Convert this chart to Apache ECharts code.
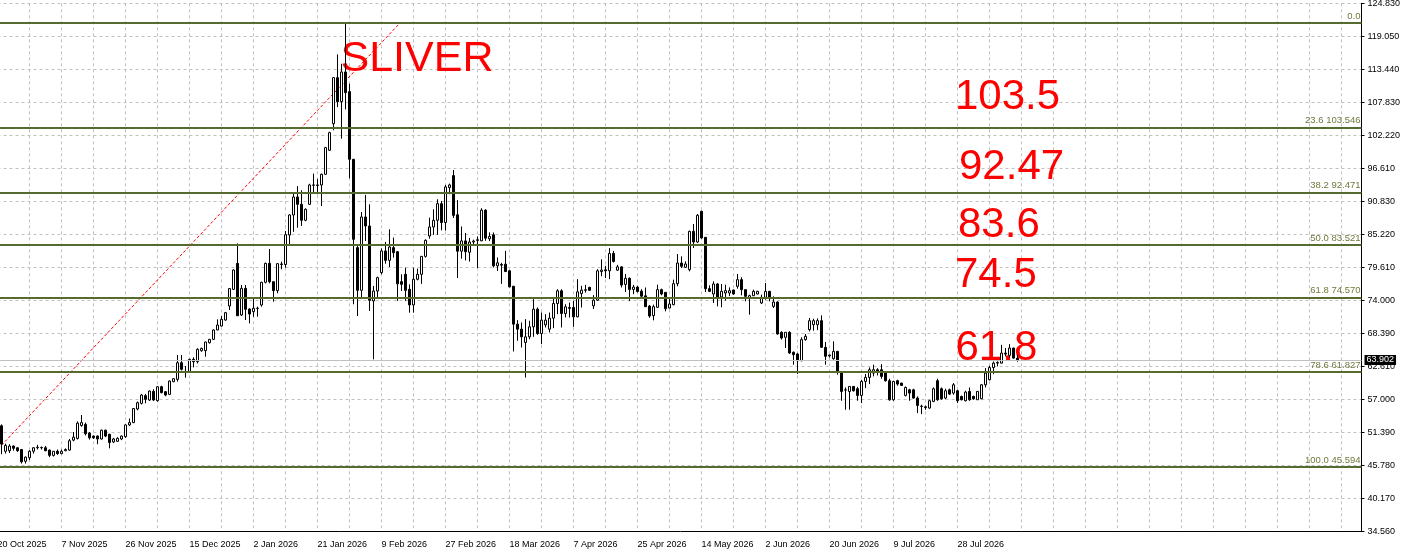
<!DOCTYPE html>
<html>
<head>
<meta charset="utf-8">
<script src="https://cdn.jsdelivr.net/npm/echarts@6/dist/echarts.min.js"></script>
<style>
html,body{margin:0;padding:0;background:#fff;}
#chart{width:1405px;height:554px;}
</style>
</head>
<body>
<div id="chart"></div>
<script>
// ---- data (daily bars) ----
const dateLabels = ['20 Oct 2025','7 Nov 2025','26 Nov 2025','15 Dec 2025','2 Jan 2026','21 Jan 2026','9 Feb 2026','27 Feb 2026','18 Mar 2026','7 Apr 2026','25 Apr 2026','14 May 2026','2 Jun 2026','20 Jun 2026','9 Jul 2026','28 Jul 2026'];
const priceLabels = ['34.560','40.170','45.780','51.390','57.000','62.610','68.390','74.000','79.610','85.220','90.830','96.610','102.220','107.830','113.440','119.050','124.830'];
const priceMin = 34.56, priceMax = 124.83;

const open = [53.0,52.66,48.3,48.4,49.2,48.9,48.6,46.6,47.2,48.3,48.9,48.9,48.9,48.5,47.6,48.3,47.9,48.4,48.5,50.2,
50.5,52.7,52.9,51.4,50.9,50.9,50.4,51.9,51.2,49.9,50.0,50.4,50.8,52.8,53.2,55.52,56.49,57.8,57.06,58.54,
56.94,59.33,58.48,58.02,60.19,60.59,63.43,61.85,61.95,64.0,63.6,65.49,65.49,66.85,67.42,69.02,69.7,70.72,73.12,75.96,
80.4,71.58,76.13,72.6,72.15,72.7,73.29,77.16,80.4,77.27,75.74,80.2,80.2,85.25,88.67,91.74,90.49,87.76,90.49,93.75,
93.7,93.79,95.62,99.72,104.27,112.13,108.03,113.1,109.74,98.18,83.09,75.8,88.33,86.79,73.98,75.68,78.82,82.52,80.92,83.09,
82.4,77.28,78.53,75.97,73.3,77.68,78.53,81.6,85.08,86.62,87.76,90.6,87.38,93.35,95.4,88.7,82.48,84.24,82.3,84.05,
84.3,84.25,89.49,84.6,85.28,79.98,80.2,80.27,79.13,76.5,70.02,69.16,66.89,67.85,69.56,72.58,68.42,69.9,69.16,71.04,
73.55,75.71,71.84,72.7,72.86,71.27,75.25,75.8,76.3,73.15,74.11,79.0,79.3,79.13,82.09,79.24,79.8,76.8,77.85,75.95,
76.35,75.65,74.85,73.1,71.47,72.89,75.91,75.45,72.78,73.35,76.93,80.46,79.72,79.33,85.87,84.05,89.29,84.85,76.08,75.17,
76.88,74.66,75.34,75.34,75.85,76.48,77.62,75.91,74.49,74.88,75.17,73.63,74.6,75.62,73.06,73.8,68.62,67.77,68.62,65.2,
64.92,63.78,67.37,69.08,69.93,69.93,70.61,66.06,64.6,64.12,65.37,61.84,58.75,58.52,59.38,58.98,57.84,60.23,60.92,61.66,
62.23,62.23,61.66,60.35,57.1,60.35,59.95,57.84,58.8,58.8,57.39,55.95,55.9,55.68,56.82,60.35,58.98,57.39,58.81,58.24,
58.64,57.67,56.93,58.52,57.67,57.1,57.27,59.66,60.52,62.6,63.36,63.36,65.07,64.68,65.93,64.22];
const high = [53.4,52.9,49.6,49.5,49.3,49.0,48.7,47.4,48.5,49.0,49.4,49.1,49.2,48.6,48.3,48.6,48.6,48.8,50.4,51.6,
53.4,54.5,53.2,51.6,51.0,51.0,52.0,52.0,51.3,50.6,50.7,51.0,52.9,53.9,55.7,56.8,58.1,58.1,58.7,58.9,
59.4,59.5,58.6,60.4,60.8,64.74,64.74,62.87,64.1,64.35,65.9,66.0,67.0,67.5,69.13,70.84,71.4,72.1,76.13,79.38,
83.82,76.7,76.7,72.7,74.43,73.0,77.27,80.52,82.85,77.3,80.4,80.69,85.93,88.78,92.3,93.6,92.88,89.8,94.0,95.73,
94.8,95.73,100.3,102.9,112.24,116.1,114.5,121.448,111.1,98.2,83.66,89.18,92.09,90.49,76.54,78.13,82.97,84.06,86.22,84.8,
82.52,78.53,79.67,76.82,79.67,79.5,81.66,84.51,88.21,89.64,91.35,91.06,93.8,94.03,96.35,91.2,86.7,85.6,84.75,84.45,
85.0,89.83,89.66,85.7,85.68,81.4,80.5,82.54,79.2,76.5,70.7,70.3,70.87,70.6,74.28,72.86,72.0,71.72,72.0,74.46,
75.99,75.99,73.43,73.7,74.0,77.7,76.56,76.73,76.4,74.97,79.41,81.1,79.98,83.0,82.54,80.15,79.9,78.6,78.0,76.73,
76.56,75.99,76.28,73.3,73.35,76.76,76.08,75.5,74.37,77.62,82.0,81.6,80.75,85.99,87.13,88.84,89.41,84.85,76.65,77.33,
77.05,76.88,76.76,76.3,75.9,78.59,78.02,75.95,75.05,75.9,75.7,75.05,77.05,75.7,74.77,73.92,68.8,68.62,68.8,65.37,
65.1,67.77,68.34,71.07,70.95,71.0,71.52,66.97,64.8,67.08,65.4,61.9,59.2,59.4,59.45,59.3,60.52,61.49,62.62,63.08,
62.5,63.19,61.8,60.69,60.35,60.52,60.0,59.38,58.98,58.98,57.67,56.25,56.1,57.1,59.2,60.69,59.2,58.98,59.0,59.95,
58.8,57.8,58.64,59.2,57.8,58.6,59.78,62.51,62.9,63.65,63.65,66.49,65.93,66.6,66.0,64.8];
const low = [52.2,47.8,47.9,48.0,48.4,48.2,46.2,46.2,46.8,47.9,48.6,48.6,48.3,47.3,47.4,47.7,47.8,48.3,48.4,50.0,
50.3,52.5,51.0,50.3,50.4,49.5,50.3,50.7,48.8,49.7,49.9,50.2,50.6,52.6,53.1,55.3,56.3,56.5,56.9,56.9,
56.77,58.2,57.7,57.9,60.1,60.2,62.1,60.87,61.8,62.63,63.3,65.3,64.46,66.7,67.3,69.0,69.6,70.6,72.43,75.85,
71.41,71.41,70.72,70.15,71.29,71.29,73.0,76.99,76.99,73.86,75.28,79.38,79.67,83.4,85.8,86.5,86.8,87.6,90.4,92.5,
92.2,90.2,95.5,99.6,103.13,107.1,101.7,106.7,94.93,73.41,71.41,74.66,84.23,72.27,64.01,74.66,78.53,80.35,79.78,81.38,
73.98,75.68,73.98,71.98,71.98,77.5,76.9,81.38,84.63,85.25,85.28,86.05,86.0,92.2,88.15,77.9,81.2,80.9,80.7,83.6,
79.6,84.2,84.25,84.2,79.7,79.1,76.9,78.9,76.3,65.35,67.17,66.03,60.9,67.45,67.85,68.19,66.6,69.45,68.6,69.33,
71.72,69.45,71.15,71.15,69.56,71.2,72.86,75.4,75.7,72.6,74.0,78.2,77.9,77.7,80.55,79.13,76.28,75.5,73.95,75.14,
75.42,74.57,72.98,71.1,70.67,72.78,74.94,72.21,72.7,73.23,76.48,79.61,79.61,79.04,83.03,83.88,84.62,75.51,75.51,73.63,
73.06,72.9,74.03,74.8,75.05,76.08,74.94,73.92,71.64,74.8,75.1,73.46,74.2,73.92,72.78,68.22,67.37,65.94,64.92,63.1,
61.5,63.67,67.2,68.79,68.9,69.0,65.94,63.1,64.3,63.95,61.39,56.93,55.4,55.4,58.5,56.93,56.53,59.09,59.78,61.09,
61.26,60.69,60.2,56.93,56.93,59.5,59.5,57.67,56.93,57.27,54.82,54.65,55.4,55.56,56.7,56.93,57.1,57.2,57.9,57.95,
56.53,57.0,56.82,56.93,57.1,57.1,57.2,59.2,60.4,61.5,62.8,63.3,64.5,64.3,64.1,63.6];
const close = [52.7,49.53,49.3,49.2,48.8,48.4,46.5,47.3,48.3,48.9,49.0,48.95,48.4,47.6,48.3,47.9,48.3,48.6,50.1,50.7,
53.1,53.2,51.3,50.6,50.6,50.4,51.9,50.9,49.8,50.4,50.5,50.9,52.8,53.2,55.6,56.6,57.91,57.17,58.59,57.06,
59.33,58.31,57.91,60.3,60.7,63.43,62.3,61.95,64.0,63.6,65.71,65.88,66.97,67.42,69.02,69.87,70.84,71.98,76.1,79.27,
71.45,76.13,72.55,71.75,72.72,72.75,77.16,80.4,77.27,75.74,80.35,80.3,85.3,88.67,91.74,90.49,87.76,89.64,93.79,93.8,
93.8,95.62,100.17,102.73,112.13,108.03,113.1,109.57,98.18,84.51,75.8,88.33,86.79,74.09,75.68,77.96,82.52,80.92,83.2,82.23,
76.9,76.82,75.8,73.3,77.68,78.53,81.6,84.34,86.62,87.76,90.6,87.38,93.46,93.8,88.6,82.48,84.24,82.4,84.05,84.2,
84.45,89.49,84.71,85.0,79.98,80.5,80.1,79.01,76.39,70.02,69.16,67.85,67.85,69.56,72.58,68.42,70.7,70.7,71.04,73.55,
75.71,71.84,72.98,72.86,71.27,75.54,75.82,75.9,75.8,74.11,79.13,79.25,79.13,82.09,80.72,79.81,76.7,77.85,75.95,76.35,
75.6,74.8,73.0,71.4,73.0,75.91,75.17,72.66,73.46,76.93,80.46,79.9,80.29,85.87,84.05,88.61,84.74,76.08,75.62,76.88,
74.49,75.62,75.74,75.74,75.17,77.62,75.91,74.77,74.88,75.62,75.62,74.6,75.62,74.49,73.8,68.34,67.65,68.62,65.09,64.8,
63.78,67.37,67.94,70.61,70.61,70.61,66.06,64.52,64.75,65.37,61.84,58.52,58.8,59.38,58.64,57.84,60.23,60.92,62.23,62.23,
61.83,61.09,60.35,57.1,60.23,59.78,59.55,59.2,58.24,57.39,56.13,56.0,55.78,56.93,58.98,57.1,57.27,58.64,58.07,59.66,
56.93,57.1,58.41,57.1,57.27,58.52,59.66,61.66,62.6,63.36,63.5,65.07,64.9,65.93,64.22,63.902];
const lastPrice = 63.902;

// Fibonacci retracement (levels and the two anchors of its trend line)
const fibLevels = [
  {name:'0.0', price:121.448},
  {name:'23.6 103.546', price:103.546},
  {name:'38.2 92.471', price:92.471},
  {name:'50.0 83.521', price:83.521},
  {name:'61.8 74.570', price:74.570},
  {name:'78.6 61.827', price:61.827},
  {name:'100.0 45.594', price:45.594}
];
const fibAnchors = [[-4.15, 45.594], [100.6, 121.448]];
const notes = ['SLIVER','103.5','92.47','83.6','74.5','61.8'];

// ---- chart ----
const slots = 342; // bar slots across the window (data + empty space on the right)
const cats = [];
for (let i = 0; i < slots; i++) cats.push(String(i));
const candles = open.map((o, i) => [o, close[i], low[i], high[i]]);

const FONT = '"Liberation Sans", Arial, sans-serif';
const notePos = [[340.5, 59.5], [955, 97.5], [959, 167], [958, 225.5], [955, 275.5], [955.5, 348.5]];

const chart = echarts.init(document.getElementById('chart'), null, {renderer: 'canvas'});
chart.setOption({
  animation: false,
  backgroundColor: '#ffffff',
  grid: {left: -2.5, right: 43.5, top: 3.3, bottom: 22.3, containLabel: false, outerBoundsMode: 'none'},
  xAxis: [{
    type: 'category', data: cats, boundaryGap: false,
    axisLine: {show: true, onZero: false, lineStyle: {color: '#000', width: 1}},
    axisTick: {show: false},
    axisLabel: {
      interval: 15, align: 'left', margin: 8, fontSize: 9, fontFamily: FONT, color: '#000',
      hideOverlap: false, showMinLabel: true,
      formatter: (v, i) => dateLabels[Math.round(i / 16)] || ''
    },
    splitLine: {show: true, interval: 7, lineStyle: {color: '#c0c0c0', type: [3, 3], width: 1}}
  }, {
    type: 'value', min: 0, max: slots - 1, show: false
  }],
  yAxis: [{
    type: 'value', min: priceMin, max: priceMax, show: false
  }, {
    type: 'value', min: 0, max: priceLabels.length - 1, interval: 1, position: 'right',
    axisLine: {show: true, onZero: false, lineStyle: {color: '#000', width: 1}},
    axisTick: {show: true, length: 3, lineStyle: {color: '#000'}},
    axisLabel: {margin: 6, fontSize: 9, fontFamily: FONT, color: '#000', formatter: v => priceLabels[v] || ''},
    splitLine: {show: true, lineStyle: {color: '#c0c0c0', type: [3, 3], width: 1}}
  }],
  graphic: notes.map((t, i) => ({
    type: 'text', x: notePos[i][0], y: notePos[i][1], z: 1, silent: true,
    style: {text: t, font: (i === 0 ? '43px ' : '42px ') + FONT, fill: '#ff0000', textVerticalAlign: 'middle'}
  })),
  series: [{
    type: 'candlestick', xAxisIndex: 0, yAxisIndex: 0, data: candles, barWidth: 2,
    itemStyle: {color: '#ffffff', color0: '#000000', borderColor: '#000000', borderColor0: '#000000', borderWidth: 1},
    markLine: {
      silent: true, symbol: ['none', 'none'], animation: false,
      lineStyle: {color: '#c0c0c0', type: 'solid', width: 1},
      label: {show: true, position: 'end', distance: 3, formatter: lastPrice.toFixed(3),
        backgroundColor: '#000', color: '#fff', fontSize: 9, fontFamily: FONT, padding: [1, 2, 0, 2]},
      data: [{yAxis: lastPrice}]
    },
    z: 3
  }, {
    type: 'line', xAxisIndex: 0, yAxisIndex: 0, data: [], silent: true,
    markLine: {
      silent: true, symbol: ['none', 'none'], animation: false,
      lineStyle: {color: '#556b2f', type: 'solid', width: 2},
      label: {show: true, position: 'insideEndTop', distance: [1, 2], fontSize: 9.5, fontFamily: FONT, color: '#72793c'},
      data: fibLevels.map(f => ({yAxis: f.price, label: {formatter: f.name}}))
    },
    z: 2
  }, {
    type: 'line', xAxisIndex: 1, yAxisIndex: 0, data: fibAnchors, symbol: 'none', silent: true,
    lineStyle: {color: '#ff0000', width: 1, type: [3, 2]}, z: 2
  }]
});
</script>
</body>
</html>
